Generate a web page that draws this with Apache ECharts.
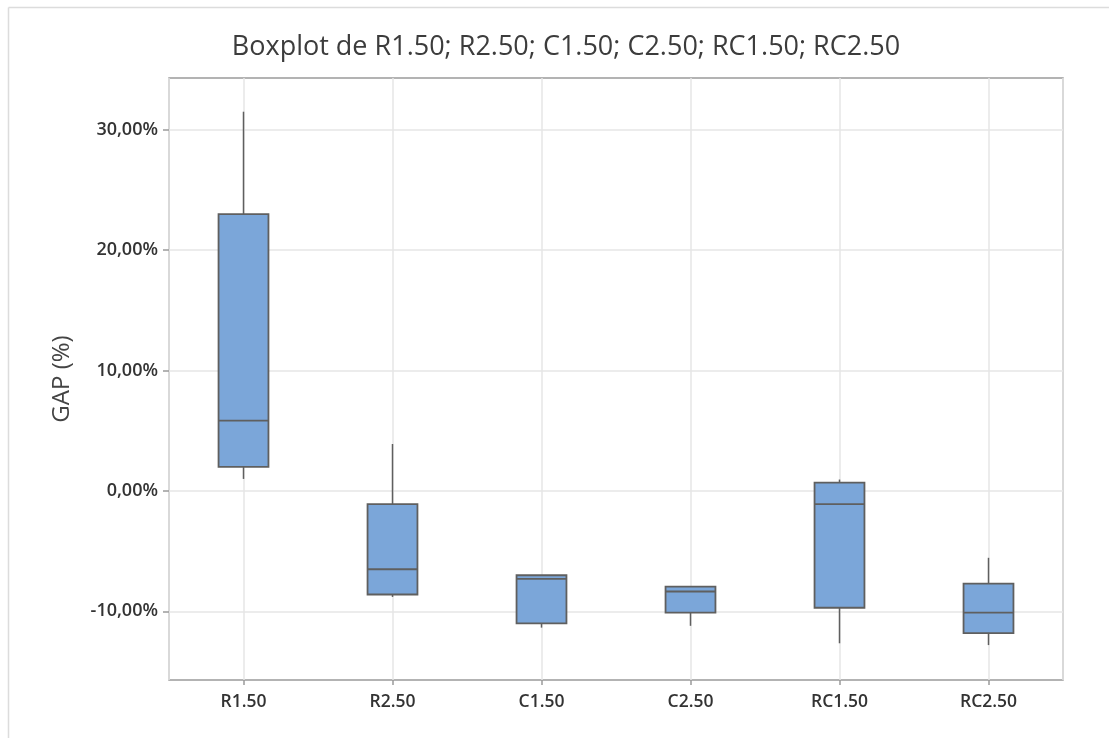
<!DOCTYPE html>
<html>
<head>
<meta charset="utf-8">
<script src="https://cdn.jsdelivr.net/npm/echarts@6/dist/echarts.min.js"></script>
<style>
html,body{margin:0;padding:0;background:#fff;}
#chart{width:1109px;height:738px;}
</style>
</head>
<body>
<div id="chart"></div>
<script>
// Data (percent values)
var categories = ['R1.50', 'R2.50', 'C1.50', 'C2.50', 'RC1.50', 'RC2.50'];
var whiskerLow = [1.0, -8.8, -11.35, -11.2, -12.65, -12.8];
var q1Values   = [2.0, -8.6, -11.0, -10.1, -9.7, -11.8];
var medians    = [5.85, -6.5, -7.3, -8.35, -1.1, -10.1];
var q3Values   = [23.0, -1.1, -7.0, -7.95, 0.7, -7.7];
var whiskerHigh= [31.5, 3.9, -7.0, -7.95, 0.95, -5.55];
var yTicks = [-10, 0, 10, 20, 30];

var boxData = categories.map(function (c, i) {
  return [i, whiskerLow[i], q1Values[i], medians[i], q3Values[i], whiskerHigh[i]];
});

function fmt(v) {
  return v.toFixed(2).replace('.', ',') + '%';
}

var chart = echarts.init(document.getElementById('chart'));
var lineStyle = { stroke: '#5f5f5f', lineWidth: 1.5 };

chart.setOption({
  backgroundColor: '#fff',
  animation: false,
  title: {
    text: 'Boxplot de R1.50; R2.50; C1.50; C2.50; RC1.50; RC2.50',
    left: 561, top: 29, textAlign: 'center',
    textStyle: { fontFamily: 'Open Sans', fontSize: 27, fontWeight: 500, color: '#3c3c3c' }
  },
  graphic: [
    { type: 'line', shape: { x1: 8.5, y1: 7.5, x2: 1109, y2: 7.5 }, style: { stroke: '#dcdcdc', lineWidth: 1.5 }, silent: true },
    { type: 'line', shape: { x1: 8.5, y1: 7.5, x2: 8.5, y2: 738 }, style: { stroke: '#dcdcdc', lineWidth: 1.5 }, silent: true }
  ],
  grid: { left: 169, right: 46, top: 78, bottom: 58, show: true, borderColor: '#9a9a9a', borderWidth: 1.5, containLabel: false },
  xAxis: [
    {
      type: 'category', data: categories, boundaryGap: true,
      axisLine: { show: false, onZero: false },
      axisTick: { show: true, alignWithLabel: true, length: 5, lineStyle: { color: '#9a9a9a', width: 1.5 } },
      axisLabel: { margin: 13, fontFamily: 'Open Sans', fontSize: 17.5, fontWeight: 600, color: '#333' },
      splitLine: { show: false }
    },
    {
      type: 'value', min: -0.5, max: 5.5, minInterval: 1, maxInterval: 1, show: true, position: 'bottom',
      axisLine: { show: false, onZero: false }, axisTick: { show: false }, axisLabel: { show: false },
      splitLine: { show: true, lineStyle: { color: '#e6e6e6', width: 1.5 } }
    }
  ],
  yAxis: {
    type: 'value', min: -15.7, max: 34.3, minInterval: 10, maxInterval: 10,
    name: 'GAP (%)', nameLocation: 'middle', nameGap: 95, nameRotate: 90,
    nameTextStyle: { fontFamily: 'Open Sans', fontSize: 24, color: '#444' },
    axisLine: { show: false, onZero: false },
    axisTick: { show: true, length: 6, customValues: yTicks, lineStyle: { color: '#9a9a9a', width: 1.5 } },
    axisLabel: { customValues: yTicks, margin: 11, fontFamily: 'Open Sans', fontSize: 18, fontWeight: 600, color: '#333', formatter: fmt },
    splitLine: { show: true, lineStyle: { color: '#e6e6e6', width: 1.5 } }
  },
  series: [{
    type: 'custom',
    xAxisIndex: 0,
    data: boxData,
    encode: { x: 0, y: [1, 2, 3, 4, 5] },
    renderItem: function (params, api) {
      var idx = api.value(0);
      var pLow = api.coord([idx, api.value(1)]);
      var pQ1 = api.coord([idx, api.value(2)]);
      var pMed = api.coord([idx, api.value(3)]);
      var pQ3 = api.coord([idx, api.value(4)]);
      var pHigh = api.coord([idx, api.value(5)]);
      var w = api.size([1, 0])[0] * 0.335;
      var x = pQ1[0];
      var children = [];
      children.push({ type: 'line', shape: { x1: x, y1: pHigh[1], x2: x, y2: pQ3[1] }, style: lineStyle });
      children.push({ type: 'line', shape: { x1: x, y1: pQ1[1], x2: x, y2: pLow[1] }, style: lineStyle });
      children.push({ type: 'rect', shape: { x: x - w / 2, y: pQ3[1], width: w, height: pQ1[1] - pQ3[1] },
        style: { fill: '#7ba6d9', stroke: '#5f5f5f', lineWidth: 1.8 } });
      children.push({ type: 'line', shape: { x1: x - w / 2, y1: pMed[1], x2: x + w / 2, y2: pMed[1] }, style: { stroke: '#5f5f5f', lineWidth: 1.8 } });
      return { type: 'group', children: children };
    }
  }]
});
</script>
</body>
</html>
